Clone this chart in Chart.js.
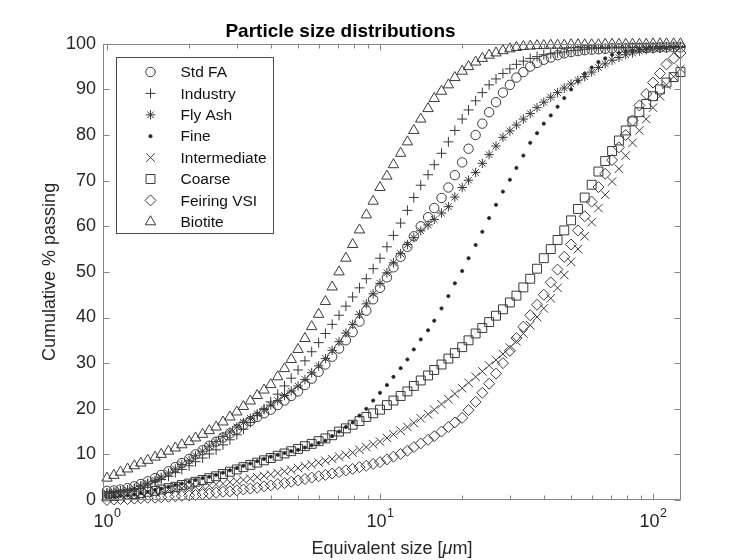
<!DOCTYPE html>
<html>
<head>
<meta charset="utf-8">
<script src="https://cdn.jsdelivr.net/npm/chart.js@4/dist/chart.umd.min.js"></script>
<style>
  html, body { margin: 0; padding: 0; background: #fff; }
</style>
</head>
<body>
<canvas id="psd" width="743" height="560"></canvas>
<script>
// Equivalent size [um] – one marker per size class
const sizes = [1.00, 1.06, 1.12, 1.19, 1.26, 1.33, 1.41, 1.50, 1.58, 1.68, 1.78, 1.88,
  2.00, 2.11, 2.24, 2.37, 2.51, 2.66, 2.82, 2.99, 3.16, 3.35, 3.55, 3.76, 3.98,
  4.22, 4.47, 4.73, 5.01, 5.31, 5.62, 5.96, 6.31, 6.68, 7.08, 7.50, 7.94, 8.41, 8.91, 9.44,
  10.0, 10.6, 11.2, 11.9, 12.6, 13.3, 14.1, 15.0, 15.8, 16.8, 17.8, 18.8,
  20.0, 21.1, 22.4, 23.7, 25.1, 26.6, 28.2, 29.9, 31.6, 33.5, 35.5, 37.6, 39.8,
  42.2, 44.7, 47.3, 50.1, 53.1, 56.2, 59.6, 63.1, 66.8, 70.8, 75.0, 79.4, 84.1, 89.1, 94.4,
  100, 106, 112, 119, 126];

// cumulative % passing
const stdFA = [2.0, 2.1, 2.3, 2.6, 3.0, 3.5, 4.1, 4.8, 5.5, 6.3,
  7.2, 8.1, 9.0, 10.0, 10.9, 11.9, 12.8, 13.7, 14.6, 15.5,
  16.5, 17.3, 18.2, 19.0, 19.8, 20.8, 21.8, 22.8, 23.8, 25.2,
  26.6, 28.1, 29.7, 31.4, 33.2, 35.0, 36.8, 39.1, 41.5, 44.0,
  46.5, 48.8, 51.0, 53.3, 55.5, 57.8, 60.0, 62.0, 64.0, 66.2,
  68.5, 71.2, 74.0, 77.0, 80.0, 82.5, 85.0, 87.2, 89.3, 91.0,
  92.6, 93.8, 95.0, 95.8, 96.5, 97.0, 97.5, 97.9, 98.2, 98.4,
  98.6, 98.7, 98.8, 98.9, 99.0, 99.0, 99.0, 99.1, 99.1, 99.1,
  99.1, 99.2, 99.2, 99.2, 99.2];

const industry = [1.5, 1.7, 2.0, 2.2, 2.5, 3.0, 3.5, 4.0, 4.5, 5.2,
  6.0, 6.7, 7.5, 8.4, 9.2, 10.1, 11.0, 12.1, 13.2, 14.3,
  15.5, 17.0, 18.5, 20.0, 21.5, 23.2, 25.0, 26.7, 28.5, 30.5,
  32.5, 34.5, 36.5, 38.5, 40.5, 42.5, 44.5, 46.5, 48.5, 50.7,
  53.0, 55.5, 58.0, 60.7, 63.5, 66.3, 69.0, 71.3, 73.5, 76.0,
  78.5, 81.0, 83.5, 85.5, 87.5, 89.3, 91.0, 92.3, 93.5, 94.5,
  95.5, 96.2, 96.8, 97.2, 97.6, 97.8, 98.0, 98.2, 98.5, 98.6,
  98.8, 98.9, 99.0, 99.0, 99.1, 99.1, 99.1, 99.2, 99.2, 99.2,
  99.3, 99.3, 99.3, 99.4, 99.4];

const flyAsh = [1.5, 1.7, 2.0, 2.2, 2.5, 3.1, 3.7, 4.3, 5.0, 5.9,
  6.8, 7.8, 8.7, 9.7, 10.7, 11.8, 12.8, 13.9, 14.9, 16.0,
  17.0, 17.9, 18.9, 19.8, 20.8, 21.8, 22.9, 23.9, 25.0, 26.4,
  27.9, 29.4, 31.0, 32.8, 34.7, 36.6, 38.5, 40.7, 43.0, 45.2,
  47.5, 49.8, 52.0, 54.0, 56.0, 57.5, 59.0, 60.3, 61.5, 62.9,
  64.3, 66.4, 68.5, 70.1, 71.8, 73.8, 75.7, 77.6, 79.5, 80.9,
  82.2, 83.5, 84.7, 86.0, 87.2, 88.3, 89.3, 90.3, 91.2, 92.0,
  92.8, 93.8, 94.8, 95.6, 96.4, 97.0, 97.6, 98.0, 98.4, 98.7,
  98.9, 99.0, 99.1, 99.2, 99.2];

const fine = [0.5, 0.7, 0.9, 1.0, 1.2, 1.5, 1.8, 2.2, 2.5, 2.9,
  3.3, 3.6, 4.0, 4.4, 4.8, 5.1, 5.5, 6.0, 6.5, 7.0,
  7.5, 8.0, 8.5, 9.0, 9.5, 9.9, 10.3, 10.7, 11.0, 11.5,
  12.0, 12.5, 13.0, 14.0, 15.0, 16.0, 17.0, 18.5, 20.0, 21.8,
  23.5, 25.2, 27.0, 28.9, 30.8, 33.0, 35.2, 37.2, 39.3, 42.0,
  44.7, 47.5, 50.2, 53.0, 55.9, 58.8, 61.8, 64.7, 67.6, 70.2,
  72.8, 75.5, 78.3, 80.4, 82.5, 84.3, 86.2, 88.1, 90.0, 91.8,
  93.5, 94.8, 96.0, 96.8, 97.6, 98.0, 98.4, 98.6, 98.8, 98.9,
  99.0, 99.1, 99.1, 99.2, 99.2];

const intermediate = [1.2, 1.3, 1.4, 1.5, 1.6, 1.7, 1.8, 2.0, 2.1, 2.3,
  2.4, 2.6, 2.7, 2.9, 3.0, 3.2, 3.4, 3.6, 3.9, 4.1,
  4.4, 4.7, 5.0, 5.3, 5.6, 5.9, 6.3, 6.6, 7.0, 7.4,
  7.8, 8.2, 8.6, 9.0, 9.5, 9.9, 10.4, 11.0, 11.6, 12.2,
  12.8, 13.6, 14.4, 15.2, 16.0, 16.9, 17.9, 18.8, 19.8, 21.0,
  22.1, 23.3, 24.5, 25.7, 27.0, 28.2, 29.5, 30.7, 32.0, 33.4,
  34.8, 36.5, 38.3, 40.1, 42.0, 44.2, 46.5, 49.3, 52.2, 55.0,
  57.8, 60.9, 64.0, 66.9, 69.8, 72.6, 75.5, 78.3, 81.0, 83.5,
  86.0, 88.5, 91.0, 92.8, 94.5];

const coarse = [0.8, 0.9, 1.0, 1.2, 1.3, 1.5, 1.8, 2.0, 2.3, 2.6,
  2.9, 3.3, 3.6, 4.0, 4.4, 4.8, 5.2, 5.7, 6.2, 6.7,
  7.2, 7.7, 8.2, 8.7, 9.2, 9.7, 10.2, 10.7, 11.2, 11.8,
  12.3, 12.9, 13.5, 14.2, 15.0, 15.7, 16.5, 17.3, 18.2, 19.0,
  19.8, 20.8, 21.8, 22.8, 23.8, 25.0, 26.2, 27.3, 28.5, 29.7,
  31.0, 32.2, 33.5, 35.0, 36.5, 37.7, 39.0, 40.4, 41.8, 43.3,
  44.8, 46.6, 48.5, 50.7, 53.0, 55.0, 57.0, 59.1, 61.3, 63.8,
  66.3, 69.1, 72.0, 74.3, 76.5, 78.8, 81.0, 83.0, 85.0, 86.8,
  88.5, 90.0, 91.5, 92.7, 93.8];

const feiringVSI = [0.0, 0.1, 0.2, 0.2, 0.3, 0.4, 0.5, 0.5, 0.6, 0.7,
  0.8, 0.9, 1.0, 1.1, 1.3, 1.4, 1.6, 1.8, 1.9, 2.1,
  2.3, 2.5, 2.7, 3.0, 3.2, 3.5, 3.7, 4.0, 4.3, 4.6,
  4.9, 5.2, 5.5, 5.8, 6.1, 6.5, 6.8, 7.2, 7.5, 7.9,
  8.3, 8.9, 9.5, 10.1, 10.8, 11.6, 12.4, 13.2, 14.0, 15.0,
  16.0, 17.0, 18.0, 19.7, 21.5, 23.5, 25.5, 27.7, 30.0, 32.7,
  35.5, 38.0, 40.5, 42.8, 45.0, 47.7, 50.5, 53.3, 56.0, 59.1,
  62.2, 65.4, 68.6, 71.5, 74.5, 77.3, 80.0, 83.2, 86.5, 89.0,
  91.5, 93.5, 95.5, 96.8, 98.0];

const biotite = [4.8, 5.4, 6.1, 6.8, 7.5, 8.1, 8.7, 9.4, 10.0, 10.7,
  11.4, 12.1, 12.8, 13.6, 14.4, 15.2, 16.0, 17.1, 18.2, 19.3,
  20.5, 21.7, 22.9, 24.1, 25.3, 27.0, 28.8, 30.8, 33.0, 35.4,
  38.0, 40.7, 43.5, 46.7, 50.0, 53.0, 56.0, 59.2, 62.5, 65.5,
  68.5, 71.0, 73.5, 76.0, 78.5, 81.0, 83.5, 85.8, 88.0, 89.6,
  91.0, 92.6, 94.0, 95.0, 96.0, 96.8, 97.5, 98.0, 98.5, 98.9,
  99.2, 99.4, 99.5, 99.6, 99.6, 99.7, 99.7, 99.7, 99.8, 99.8,
  99.8, 99.8, 99.8, 99.9, 99.9, 99.9, 99.9, 99.9, 99.9, 99.9,
  100, 100, 100, 100, 100];

const yTicks = [0, 10, 20, 30, 40, 50, 60, 70, 80, 90, 100];
const xMajor = [1, 10, 100];
const xExp = ['0', '1', '2'];
const xMinor = [2, 3, 4, 5, 6, 7, 8, 9, 20, 30, 40, 50, 60, 70, 80, 90];

const FONT = '"Liberation Sans", Arial, Helvetica, sans-serif';
const ink = '#3a3a3a';
const frameColor = '#858585';

function series(label, values, style, radius, fill) {
    return {
        label: label,
        data: sizes.map((s, i) => ({ x: s, y: values[i] })),
        pointStyle: style,
        pointRadius: radius,
        pointHoverRadius: radius,
        pointBorderColor: ink,
        pointBorderWidth: 1,
        pointBackgroundColor: fill || 'rgba(0,0,0,0)',
        showLine: false,
        clip: false
    };
}

const datasets = [
    series('Std FA', stdFA, 'circle', 4.7),
    series('Industry', industry, 'cross', 5),
    series('Fly Ash', flyAsh, 'star', 4.7),
    series('Fine', fine, 'circle', 1.6, '#1a1a1a'),
    series('Intermediate', intermediate, 'crossRot', 6),
    series('Coarse', coarse, 'rect', 6.3),
    series('Feiring VSI', feiringVSI, 'rectRot', 5.5),
    series('Biotite', biotite, 'triangle', 6)
];

// box, inward ticks, the 10^n labels and the x label, drawn like a matlab axes
const axesFrame = {
    id: 'axesFrame',
    afterDatasetsDraw(chart) {
        const { ctx, chartArea: a, scales: { x, y } } = chart;
        const L = Math.round(a.left) + 0.5, R = Math.round(a.right) - 0.5;
        const T = Math.round(a.top) + 0.5, B = Math.round(a.bottom) - 0.5;
        ctx.save();
        ctx.strokeStyle = frameColor;
        ctx.lineWidth = 1;
        ctx.strokeRect(L, T, R - L, B - T);
        ctx.beginPath();
        yTicks.forEach(v => {
            const py = Math.round(y.getPixelForValue(v)) + 0.5;
            ctx.moveTo(L, py); ctx.lineTo(L + 6, py);
            ctx.moveTo(R, py); ctx.lineTo(R - 6, py);
        });
        xMajor.forEach(v => {
            const px = Math.round(x.getPixelForValue(v)) + 0.5;
            ctx.moveTo(px, B); ctx.lineTo(px, B - 6);
            ctx.moveTo(px, T); ctx.lineTo(px, T + 6);
        });
        xMinor.forEach(v => {
            const px = Math.round(x.getPixelForValue(v)) + 0.5;
            ctx.moveTo(px, B); ctx.lineTo(px, B - 4);
            ctx.moveTo(px, T); ctx.lineTo(px, T + 4);
        });
        ctx.stroke();

        // tick labels 10^0, 10^1, 10^2
        ctx.fillStyle = '#262626';
        ctx.textBaseline = 'alphabetic';
        ctx.textAlign = 'left';
        xMajor.forEach((v, i) => {
            const px = x.getPixelForValue(v);
            ctx.font = '18px ' + FONT;
            const w1 = ctx.measureText('10').width;
            ctx.font = '12.5px ' + FONT;
            const w2 = ctx.measureText(xExp[i]).width;
            const x0 = px - (w1 + w2) / 2;
            ctx.font = '18px ' + FONT;
            ctx.fillText('10', x0, a.bottom + 27);
            ctx.font = '12.5px ' + FONT;
            ctx.fillText(xExp[i], x0 + w1 + 0.5, a.bottom + 17);
        });

        // x label, with the greek mu in italics
        const parts = [['Equivalent size [', 'normal'], ['\u03bc', 'italic'], ['m]', 'normal']];
        let total = 0;
        parts.forEach(p => {
            ctx.font = p[1] + ' 18px ' + FONT;
            total += ctx.measureText(p[0]).width;
        });
        let tx = (a.left + a.right) / 2 - total / 2;
        parts.forEach(p => {
            ctx.font = p[1] + ' 18px ' + FONT;
            ctx.fillText(p[0], tx, a.bottom + 54);
            tx += ctx.measureText(p[0]).width;
        });
        ctx.restore();
    }
};

// legend box in the upper left corner of the axes
const legendBox = {
    id: 'legendBox',
    afterDraw(chart) {
        const { ctx, chartArea: a } = chart;
        const bx = Math.round(a.left) + 13.5, by = Math.round(a.top) + 13.5;
        const bw = 157, bh = 176;
        ctx.save();
        ctx.fillStyle = '#fff';
        ctx.fillRect(bx, by, bw, bh);
        ctx.strokeStyle = '#4a4a4a';
        ctx.lineWidth = 1;
        ctx.strokeRect(bx, by, bw, bh);
        ctx.font = '15.5px ' + FONT;
        ctx.textBaseline = 'middle';
        ctx.textAlign = 'left';
        chart.data.datasets.forEach((ds, i) => {
            const cy = by + 14.5 + i * 21.4;
            const cx = bx + 34;
            ctx.strokeStyle = ink;
            ctx.fillStyle = ds.pointBackgroundColor;
            ctx.lineWidth = 1;
            Chart.helpers.drawPoint(ctx, {
                pointStyle: ds.pointStyle,
                radius: ds.pointRadius,
                rotation: 0,
                borderWidth: 1
            }, cx, cy);
            ctx.fillStyle = '#111';
            ctx.fillText(ds.label, bx + 64, cy + 1);
        });
        ctx.restore();
    }
};

new Chart(document.getElementById('psd'), {
    type: 'scatter',
    data: { datasets: datasets },
    options: {
        responsive: false,
        animation: false,
        events: [],
        devicePixelRatio: 1,
        layout: { padding: { left: 0, right: 62, top: 0, bottom: 0 } },
        scales: {
            x: {
                type: 'logarithmic',
                min: 0.967,
                max: 126.6,
                grid: { display: false, drawTicks: false },
                border: { display: false },
                ticks: { display: false },
                afterFit: s => { s.height = 60; }
            },
            y: {
                min: 0,
                max: 100,
                grid: { display: false, drawTicks: false },
                border: { display: false },
                ticks: {
                    stepSize: 10,
                    padding: 7,
                    color: '#262626',
                    font: { family: FONT, size: 18 }
                },
                title: {
                    display: true,
                    text: 'Cumulative % passing',
                    color: '#262626',
                    font: { family: FONT, size: 18 },
                    padding: { top: 39, bottom: 0 }
                },
                afterFit: s => { s.width = 103; }
            }
        },
        plugins: {
            legend: { display: false },
            tooltip: { enabled: false },
            title: {
                display: true,
                text: 'Particle size distributions',
                color: '#000',
                font: { family: FONT, size: 19, weight: 'bold' },
                padding: { top: 20, bottom: 1 }
            }
        }
    },
    plugins: [axesFrame, legendBox]
});
</script>
</body>
</html>
